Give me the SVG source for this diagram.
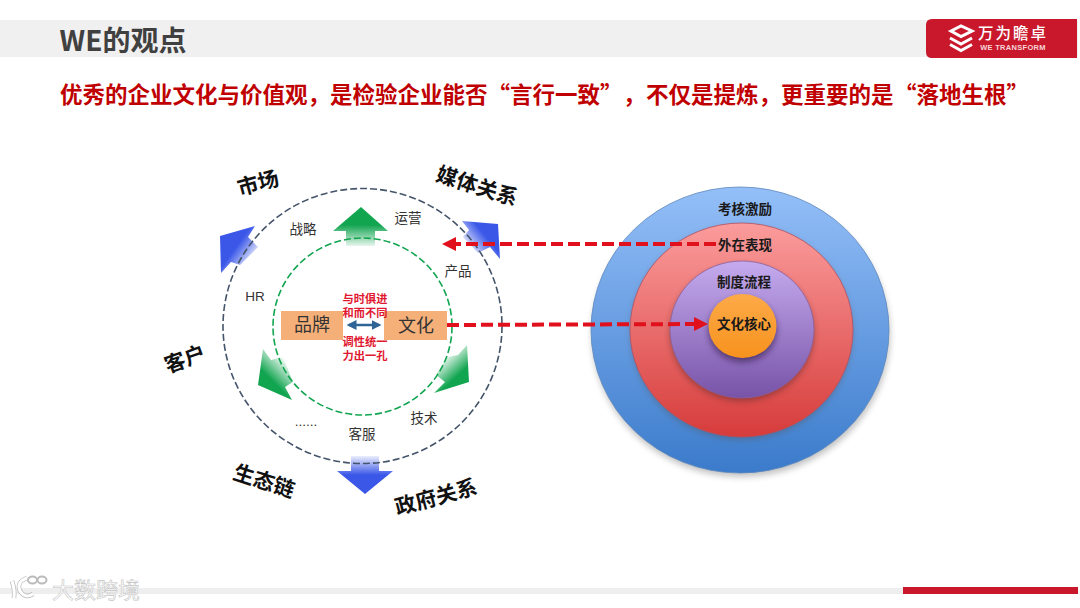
<svg xmlns="http://www.w3.org/2000/svg" width="1080" height="608" viewBox="0 0 1080 608">
<style>
text{font-family:"Liberation Sans","Noto Sans CJK SC",sans-serif;text-anchor:middle;dominant-baseline:central}
.cjk{font-family:"Noto Sans CJK SC",sans-serif}
.out{font-size:21px;font-weight:700;fill:#111}
.lab{font-size:13.500px;fill:#333}
.red{font-size:11.250px;font-weight:700;fill:#e0172f}
.brand{font-size:18px;fill:#333}
.core{font-size:13.500px;font-weight:700;fill:#1a1a1a}
.dash{fill:none;stroke:#e0101c;stroke-width:4;stroke-dasharray:12 5}
</style>
<defs>
<linearGradient id="gU" gradientUnits="userSpaceOnUse" x1="361" y1="225" x2="361" y2="246"><stop offset="0" stop-color="#12a550"/><stop offset="1" stop-color="#12a550" stop-opacity=".1"/></linearGradient>
<linearGradient id="gSW" gradientUnits="userSpaceOnUse" x1="265" y1="388" x2="289" y2="364"><stop offset="0.3" stop-color="#12a550"/><stop offset="1" stop-color="#12a550" stop-opacity=".05"/></linearGradient>
<linearGradient id="gSE" gradientUnits="userSpaceOnUse" x1="462" y1="385" x2="440" y2="361"><stop offset="0.3" stop-color="#12a550"/><stop offset="1" stop-color="#12a550" stop-opacity=".05"/></linearGradient>
<linearGradient id="bNW" gradientUnits="userSpaceOnUse" x1="227" y1="243" x2="253" y2="262"><stop offset="0.3" stop-color="#3a57e8"/><stop offset="1" stop-color="#3a57e8" stop-opacity=".05"/></linearGradient>
<linearGradient id="bNE" gradientUnits="userSpaceOnUse" x1="493" y1="230" x2="468" y2="250"><stop offset="0.3" stop-color="#3a57e8"/><stop offset="1" stop-color="#3a57e8" stop-opacity=".05"/></linearGradient>
<linearGradient id="bS" gradientUnits="userSpaceOnUse" x1="365" y1="475" x2="365" y2="456"><stop offset="0" stop-color="#3a57e8"/><stop offset="1" stop-color="#3a57e8" stop-opacity=".1"/></linearGradient>
<linearGradient id="c1" x1="0" y1="0" x2="0" y2="1"><stop offset="0" stop-color="#94bff8"/><stop offset="1" stop-color="#3b7bcb"/></linearGradient>
<linearGradient id="c2" x1="0" y1="0" x2="0" y2="1"><stop offset="0" stop-color="#fb9c9c"/><stop offset="1" stop-color="#d63c3b"/></linearGradient>
<linearGradient id="c3" x1="0" y1="0" x2="0" y2="1"><stop offset="0" stop-color="#c5abee"/><stop offset="1" stop-color="#7853a8"/></linearGradient>
<linearGradient id="c4" x1="0" y1="0" x2="0" y2="1"><stop offset="0" stop-color="#fdaa48"/><stop offset="1" stop-color="#f7921e"/></linearGradient>
<filter id="sh" x="-20%" y="-20%" width="140%" height="140%"><feGaussianBlur stdDeviation="3"/></filter>
<marker id="rh" markerWidth="3.500" markerHeight="3.500" refX="2.500" refY="1.750" orient="auto-start-reverse"><path d="M0 0L3.500 1.750L0 3.500Z" fill="#e0101c"/></marker>
<marker id="bh" markerWidth="4" markerHeight="4" refX="3" refY="2" orient="auto-start-reverse"><path d="M0 0L4 2L0 4Z" fill="#2f6496"/></marker>
</defs>
<rect width="1080" height="608" fill="#fff"/>
<g id="header">
<rect x="0" y="20" width="1078" height="37" fill="#f0f0f0"/>
<text class="cjk" x="123" y="39" style="font-size:28px;font-weight:700;fill:#404040">WE的观点</text>
</g>
<g id="logo">
<path d="M932 19H1077V58H932Q926 58 926 52V25Q926 19 932 19Z" fill="#c9182b"/>
<path d="M951 31L961 26L972 31L961 36.500ZM950 38L961 44L972 38M950 44.500L961 50.500L972 44.500" fill="none" stroke="#fff" stroke-width="3"/>
<text class="cjk" x="1013" y="32" style="font-size:15.500px;font-weight:500;fill:#fff;letter-spacing:2px">万为瞻卓</text>
<text x="1013" y="47.500" style="font-size:7.500px;font-weight:700;fill:#f6d5d8;letter-spacing:.3px">WE TRANSFORM</text>
</g>
<text id="subtitle" class="cjk" y="93" style="text-anchor:start;font-size:22.500px;font-weight:700;fill:#c00000"><tspan x="60">优秀的企业文化与价值观，是检验企业能否“言行一致”</tspan><tspan x="623">，</tspan><tspan x="646">不仅是提炼，</tspan><tspan x="781">更重要的是</tspan><tspan x="894">“落地生根”</tspan></text>
<g id="arrows">
<polygon points="361,207 388,231 375,231 375,246 346,246 346,231 333,231" fill="url(#gU)"/>
<polygon points="258,385 263,349 271,360 283,357 293,382 285,387 292,400" fill="url(#gSW)"/>
<polygon points="469,382 467,345 458,355 447,357 436,375 445,382 434,393" fill="url(#gSE)"/>
<polygon points="220,236 255,226 248,237 258,247 240,265 231,262 221,273" fill="url(#bNW)"/>
<polygon points="498,224 462,221 469,230 463,237 478,253 490,247 500,259" fill="url(#bNE)"/>
<polygon points="365,494 393,471 379,471 379,456 351,456 351,471 337,471" fill="url(#bS)"/>
</g>
<g id="rings">
<ellipse cx="362.500" cy="326" rx="139.500" ry="137.500" fill="none" stroke="#44546a" stroke-width="1.600" stroke-dasharray="7 3"/>
<ellipse cx="362.500" cy="326.500" rx="89.500" ry="88.500" fill="none" stroke="#12a550" stroke-width="1.600" stroke-dasharray="7 3"/>
</g>
<g id="outer-labels">
<text class="out" transform="translate(258 183) rotate(-15)">市场</text>
<text class="out" transform="translate(477 186) rotate(18)">媒体关系</text>
<text class="out" transform="translate(185 359) rotate(-20)">客户</text>
<text class="out" transform="translate(264 481) rotate(18)">生态链</text>
<text class="out" transform="translate(436 497) rotate(-15)">政府关系</text>
</g>
<g id="functions">
<text class="lab" x="303" y="229">战略</text>
<text class="lab" x="408" y="218">运营</text>
<text class="lab" x="458" y="271">产品</text>
<text class="lab" x="255" y="296">HR</text>
<text class="lab" x="424" y="418">技术</text>
<text class="lab" x="362" y="434">客服</text>
<text class="lab" x="306" y="421">......</text>
</g>
<g id="brand">
<rect x="281" y="311" width="62" height="29" fill="#f4b078"/>
<text class="brand" x="312" y="325">品牌</text>
</g>
<g id="culture">
<rect x="384" y="311" width="63" height="29" fill="#f4b078"/>
<text class="brand" x="416" y="326">文化</text>
</g>
<g id="brand-culture-text">
<text class="red" x="365" y="299">与时俱进</text>
<text class="red" x="365" y="312.500">和而不同</text>
<text class="red" x="365" y="341.500">调性统一</text>
<text class="red" x="365" y="355.500">力出一孔</text>
</g>
<g id="connectors">
<line x1="349" y1="325" x2="379" y2="325" stroke="#2f6496" stroke-width="2.500" marker-start="url(#bh)" marker-end="url(#bh)"/>
</g>
<g id="onion">
<ellipse cx="741" cy="335" rx="149" ry="142" fill="#777" opacity=".45" filter="url(#sh)"/>
<ellipse cx="740" cy="330" rx="149" ry="143" fill="url(#c1)" stroke="#5b86bd" stroke-width=".8"/>
<ellipse cx="741.500" cy="333" rx="111" ry="107" fill="#555" opacity=".4" filter="url(#sh)"/>
<ellipse cx="741.500" cy="330" rx="111.500" ry="107" fill="url(#c2)" stroke="#b05060" stroke-width=".8"/>
<ellipse cx="742" cy="333" rx="72" ry="68" fill="#422" opacity=".45" filter="url(#sh)"/>
<ellipse cx="742" cy="329.500" rx="72" ry="68.500" fill="url(#c3)" stroke="#8a5f9a" stroke-width=".8"/>
<ellipse cx="742.500" cy="330" rx="34" ry="32" fill="#213" opacity=".55" filter="url(#sh)"/>
<ellipse cx="742.500" cy="326" rx="34" ry="32" fill="url(#c4)"/>
<text class="core" x="745" y="209">考核激励</text>
<text class="core" x="745" y="245">外在表现</text>
<text class="core" x="744" y="282">制度流程</text>
<text class="core" x="744" y="324">文化核心</text>
</g>
<g id="dashed-connectors">
<line x1="716" y1="244" x2="446" y2="244" class="dash" marker-end="url(#rh)"/>
<line x1="447" y1="325" x2="704" y2="324" class="dash" marker-end="url(#rh)"/>
</g>
<g id="footer">
<rect x="0" y="588" width="903" height="6" fill="#eee"/>
<rect x="903" y="587" width="175" height="7" fill="#c9182b"/>
</g>
<g id="watermark">
<path d="M12 581Q15 590 14 598M27 578Q16 582 20 591Q25 599 33 594" fill="none" stroke="#bbb" stroke-width="4.500"/>
<path d="M12 581Q15 590 14 598M27 578Q16 582 20 591Q25 599 33 594" fill="none" stroke="#fff" stroke-width="3"/>
<ellipse cx="32.500" cy="580" rx="4.500" ry="3.500" fill="none" stroke="#bbb" stroke-width="2"/>
<ellipse cx="42" cy="580" rx="4.500" ry="3.500" fill="none" stroke="#bbb" stroke-width="2"/>
<text class="cjk" x="96" y="588" style="font-size:22px;fill:#fff;stroke:#c4c4c4;stroke-width:.6px">大数跨境</text>
</g>
</svg>
